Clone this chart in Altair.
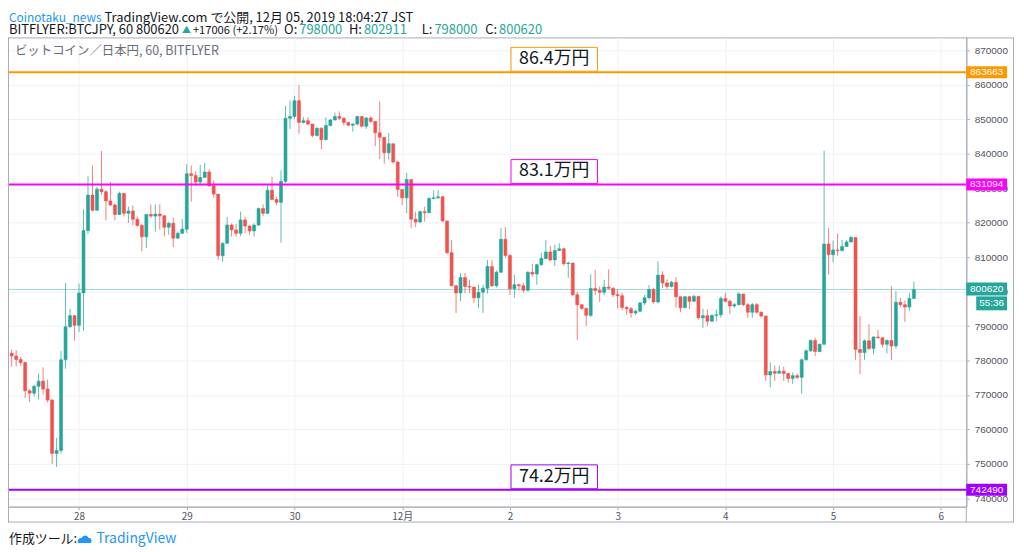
import altair as alt
import pandas as pd

# ---------------- data ----------------
first_open = 782100
closes = [
    781300, 780300, 779400, 771200, 770500, 772500, 774000, 771700, 768500, 753000,
    753900, 780200, 789800, 793000, 790200, 799600, 817700, 828000, 823600, 829700,
    829000, 826300, 825100, 822400, 828500, 822700, 823400, 821000, 819200, 815900,
    822400, 821900, 822500, 822000, 818700, 819800, 815500, 816900, 818100, 834200,
    833700, 831800, 833100, 834700, 830700, 828300, 810400, 814000, 819300, 817900,
    816900, 820800, 819000, 817600, 819300, 824100, 822700, 829400, 826700, 825900,
    832000, 850300, 850800, 855400, 849100, 849600, 848600, 845300, 847400, 844100,
    848200, 849800, 850800, 850300, 849100, 848300, 848600, 850800, 848000, 850400,
    849400, 846100, 844800, 840300, 842900, 837600, 829600, 827200, 832500, 821000,
    820200, 823200, 822900, 827000, 827200, 827500, 820500, 811300, 801700, 799600,
    804100, 801500, 801300, 798200, 799800, 801000, 807300, 801700, 805600, 815200,
    810500, 800800, 802000, 801700, 800400, 805600, 805100, 807800, 809600, 811500,
    809200, 811900, 812400, 808100, 808300, 799100, 796200, 795100, 793100, 800900,
    800300, 799800, 801300, 801000, 799100, 798800, 795400, 795000, 793800, 794300,
    796700, 798200, 800600, 797000, 804800, 802500, 801500, 802700, 798500, 795300,
    798500, 797200, 798600, 792400, 793000, 791400, 793100, 793300, 798000, 797200,
    795800, 796200, 799300, 796200, 794000, 796200, 794000, 792900, 775800, 776800,
    776300, 776900, 776200, 774800, 775600, 775100, 780200, 782800, 785800, 782600,
    784700, 813800, 810700, 812100, 811900, 813100, 814400, 815700, 783200, 782300,
    785700, 783500, 786800, 786600, 784700, 785800, 784200, 796900, 796200, 795500,
    798000, 800620,
]
highs = [
    783200, 783000, 781000, 779600, 771700, 772900, 776200, 778000, 774400, 768900,
    757500, 782800, 802500, 795000, 793200, 802300, 823900, 833500, 836600, 830400,
    840800, 829400, 831800, 825600, 829000, 828600, 824700, 825000, 821700, 819700,
    822500, 825300, 825300, 825300, 822200, 820300, 821500, 817400, 821000, 837100,
    836600, 834900, 836800, 837300, 835500, 832300, 828300, 814200, 821700, 819800,
    819600, 823200, 821700, 819300, 819800, 824400, 825300, 830900, 833300, 827500,
    835200, 853900, 855400, 856800, 860000, 850600, 850600, 847700, 847700, 847700,
    850600, 850100, 852000, 852300, 850600, 849100, 848800, 851000, 850600, 850600,
    850900, 849400, 855200, 844800, 846000, 842900, 837900, 829400, 834500, 832500,
    823200, 823600, 824600, 827300, 829400, 829400, 827700, 820500, 815000, 802000,
    805400, 805400, 803400, 801000, 802000, 802000, 809200, 809200, 806100, 818400,
    818700, 810800, 804900, 802300, 802500, 805900, 808000, 808000, 811300, 815000,
    813300, 813600, 814000, 812700, 808600, 808300, 800000, 796200, 795400, 805000,
    806300, 801500, 803400, 806400, 801200, 800600, 799600, 795800, 795500, 794800,
    797100, 799000, 801900, 801100, 808800, 805900, 803500, 803100, 804200, 798500,
    798700, 798700, 799100, 798600, 795000, 794800, 793300, 794800, 798600, 799600,
    797700, 796700, 799800, 799300, 796700, 796700, 796700, 794200, 793000, 779400,
    778500, 778500, 778200, 776500, 776500, 776200, 780600, 783300, 786100, 786600,
    784900, 840900, 818400, 814800, 816900, 815000, 815000, 816200, 815700, 792900,
    786100, 790500, 787100, 788900, 786600, 786100, 801500, 800100, 798200, 797400,
    799600, 802911,
]
lows = [
    778200, 778200, 778500, 769100, 767900, 769600, 768700, 770100, 767800, 750000,
    749100, 753000, 777600, 789500, 785800, 788300, 788600, 816700, 823300, 823500,
    828000, 820600, 824800, 820600, 822200, 821800, 819900, 819300, 818800, 811700,
    812600, 821400, 817400, 818000, 816000, 816500, 812900, 815400, 817000, 817000,
    826100, 830600, 831000, 833300, 830400, 827200, 809200, 808700, 813900, 815900,
    816000, 816100, 816900, 816400, 816000, 819000, 821900, 822500, 826500, 825100,
    814200, 831500, 847200, 850100, 845800, 848800, 848200, 844800, 845000, 841300,
    843900, 848000, 849600, 849800, 848200, 848000, 846400, 848200, 847700, 847200,
    849000, 842200, 838500, 837100, 838400, 837100, 827500, 825100, 822700, 818400,
    818700, 819800, 820300, 822700, 826800, 826800, 820300, 810900, 801500, 793800,
    797200, 799600, 799600, 796700, 795300, 793800, 799400, 801300, 801200, 805400,
    809800, 799000, 798200, 800400, 799700, 800000, 804400, 802000, 807500, 809400,
    808800, 807400, 812000, 807500, 804000, 798700, 786000, 794700, 790000, 792600,
    799000, 797000, 799000, 800500, 798400, 795100, 794600, 793300, 792400, 793200,
    794000, 796100, 797700, 796500, 796600, 801000, 800800, 801200, 795300, 794000,
    795300, 794800, 797000, 791900, 789500, 790000, 791200, 791400, 792400, 796800,
    793600, 795300, 796000, 795800, 792400, 792400, 793600, 792500, 774100, 772200,
    774100, 776200, 774100, 773600, 773200, 774600, 770400, 780000, 782500, 781300,
    782400, 784500, 804900, 808500, 810400, 811600, 813000, 814300, 780200, 776000,
    780200, 783000, 781800, 786300, 783700, 782100, 780100, 783400, 795500, 791200,
    794300, 798000,
]

day_labels = ["28", "29", "30", "12月", "2", "3", "4", "5", "6"]
day_ticks = [15, 39, 63, 87, 111, 135, 159, 183, 207]   # hourly candle index at midnight
y_ticks = list(range(740000, 870001, 10000))

levels = [863663, 831094, 742490]
level_texts = ["86.4万円", "83.1万円", "74.2万円"]
level_colors = ["#ff9800", "#ff00ff", "#a100ff"]

last_price = 800620
countdown = "55:36"

# ---------------- styling ----------------
UP = "#26a69a"
DOWN = "#ef5350"
FRAME = "#a9acb5"
GRID = "#eef1f6"
FONT = "Noto Sans CJK JP"
W, H = 964, 472

opens = [first_open] + closes[:-1]
df = pd.DataFrame({
    "i": list(range(len(closes))),
    "o": opens,
    "c": closes,
    "h": [max(h, o, c) for h, o, c in zip(highs, opens, closes)],
    "l": [min(l, o, c) for l, o, c in zip(lows, opens, closes)],
})
up_df = df[df.c >= df.o]
dn_df = df[df.c < df.o]

xs = alt.Scale(domain=[0.285, 211.57], nice=False, zero=False)
ys = alt.Scale(domain=[737581, 873761], nice=False, zero=False)

label_expr = "[" + ",".join("'%s'" % s for s in day_labels) + "]" + \
    "[round((datum.value-%d)/24)]" % day_ticks[0]

xaxis = alt.Axis(values=day_ticks, labelExpr=label_expr, title=None, grid=True,
                 gridColor=GRID, tickSize=3, tickColor=FRAME, domain=True,
                 domainColor=FRAME, labelFontSize=10, labelColor="#50535e",
                 labelFont=FONT, labelPadding=2, labelFlush=False,
                 labelOverlap=False)
yaxis = alt.Axis(orient="right", values=y_ticks, format="d", title=None, grid=True,
                 gridColor=GRID, tickSize=3, tickColor=FRAME, domain=True,
                 domainColor=FRAME, labelFontSize=10, labelColor="#50535e",
                 labelFont="Liberation Sans", labelPadding=5, labelOverlap=False,
                 labelFlush=False)


def X(field):
    return alt.X(field, scale=xs, axis=xaxis)


def Y(field):
    return alt.Y(field, scale=ys, axis=yaxis)


one = alt.Data(values=[{"a": 1}])


def txt(s, x, y, color, size=13, align="left", baseline="alphabetic", font=FONT):
    return alt.Chart(one).mark_text(text=s, align=align, baseline=baseline,
                                    fontSize=size, font=font, color=color).encode(
        x=alt.value(x), y=alt.value(y))


def hrule(x1, x2, y):
    return alt.Chart(one).mark_rule(color=FRAME, strokeWidth=1).encode(
        x=alt.value(x1), x2=alt.value(x2), y=alt.value(y))


def vrule(x, y1, y2):
    return alt.Chart(one).mark_rule(color=FRAME, strokeWidth=1).encode(
        x=alt.value(x), y=alt.value(y1), y2=alt.value(y2))


layers = []

# axes carrier (grid + ticks)
layers.append(alt.Chart(df).mark_rule(opacity=0).encode(x=X("i:Q"), y=Y("c:Q")))

# price line
pl = pd.DataFrame({"p": [last_price], "lab": [str(last_price)], "cd": [countdown]})
layers.append(alt.Chart(pl).mark_rule(color="#9fd9d2", strokeWidth=1).encode(
    y=Y("p:Q")))

# candles
for d, col in ((up_df, UP), (dn_df, DOWN)):
    layers.append(alt.Chart(d).mark_rule(color=col, strokeWidth=1, opacity=0.75,
                                         clip=True).encode(
        x=X("i:Q"), y=Y("l:Q"), y2="h:Q"))
    layers.append(alt.Chart(d).mark_bar(size=3, color=col, stroke=col,
                                        strokeWidth=0.6, clip=True).encode(
        x=X("i:Q"), y=Y("o:Q"), y2="c:Q"))

# horizontal levels with boxed labels
for p, t, col in zip(levels, level_texts, level_colors):
    d = pd.DataFrame({"p": [p], "t": [t], "lab": [str(p)]})
    layers.append(alt.Chart(d).mark_rule(color=col, strokeWidth=2).encode(y=Y("p:Q")))
    layers.append(alt.Chart(d).mark_rect(fill="white", stroke=col, strokeWidth=1,
                                         yOffset=-25, y2Offset=-1).encode(
        x=alt.value(506), x2=alt.value(593), y=Y("p:Q"), y2="p:Q"))
    layers.append(alt.Chart(d).mark_text(fontSize=18, font=FONT, color="#131722",
                                         dy=-13, baseline="middle").encode(
        x=alt.value(549.5), y=Y("p:Q"), text="t:N"))
    layers.append(alt.Chart(d).mark_rect(fill=col, yOffset=-6, y2Offset=6).encode(
        x=alt.value(964), x2=alt.value(1005), y=Y("p:Q"), y2="p:Q"))
    layers.append(alt.Chart(d).mark_text(fontSize=10, font="Liberation Sans",
                                         color="white", baseline="middle").encode(
        x=alt.value(984.5), y=Y("p:Q"), text="lab:N"))

# last price label + countdown
layers.append(alt.Chart(pl).mark_rect(fill=UP, yOffset=-7, y2Offset=6).encode(
    x=alt.value(964), x2=alt.value(1005), y=Y("p:Q"), y2="p:Q"))
layers.append(alt.Chart(pl).mark_text(fontSize=10, font="Liberation Sans",
                                      color="white", baseline="middle").encode(
    x=alt.value(984.5), y=Y("p:Q"), text="lab:N"))
layers.append(alt.Chart(pl).mark_rect(fill=UP, yOffset=7, y2Offset=21).encode(
    x=alt.value(974), x2=alt.value(1005), y=Y("p:Q"), y2="p:Q"))
layers.append(alt.Chart(pl).mark_text(fontSize=10, font="Liberation Sans",
                                      color="white", baseline="middle", dy=14).encode(
    x=alt.value(989.5), y=Y("p:Q"), text="cd:N"))

# frame
layers += [
    hrule(964, 1012, 0.5),
    vrule(1011.5, 0, 488),
    hrule(0, 1012, 487.5),
    vrule(0.5, 0, 488),
    vrule(964, 472, 488),
]

# header / captions
TEAL = "#26a69a"
BLACK = "#131722"
L1, L2 = -16, -3
layers += [
    txt("Coinotaku_news", 1, L1, "#2196f3", size=12),
    txt("TradingView.com で公開, 12月 05, 2019 18:04:27 JST", 97, L1, BLACK),
    txt("BITFLYER:BTCJPY, 60 800620", 1, L2, BLACK),
    txt("▲", 175, L2 - 1, TEAL, size=9),
    txt("+17006 (+2.17%)", 186, L2, BLACK, size=11.2),
    txt("O:", 291, L2, BLACK, align="right"),
    txt("798000", 293, L2, TEAL),
    txt("H:", 356, L2, BLACK, align="right"),
    txt("802911", 358, L2, TEAL),
    txt("L:", 427, L2, BLACK, align="right"),
    txt("798000", 429, L2, TEAL),
    txt("C:", 492, L2, BLACK, align="right"),
    txt("800620", 494, L2, TEAL),
    txt("ビットコイン／日本円, 60, BITFLYER", 7, 13.5, "#6a6d78", size=12.5,
        baseline="middle"),
    txt("作成ツール:", 1, 505, BLACK, size=13, baseline="middle"),
    txt("TradingView", 89, 505, "#2196f3", size=14, baseline="middle"),
]
cloud = ("M -1 0.55 C -1.25 0.1 -0.85 -0.3 -0.45 -0.2 C -0.3 -0.75 0.45 -0.8 0.6 -0.25 "
         "C 1.05 -0.3 1.25 0.25 1 0.55 Z")
layers.append(alt.Chart(one).mark_point(shape=cloud, filled=True, color="#2196f3",
                                        size=160, opacity=1).encode(
    x=alt.value(77), y=alt.value(505)))

chart = alt.layer(*layers).properties(
    width=W, height=H,
    padding={"left": 0, "top": 28, "right": 50, "bottom": 40},
    autosize=alt.AutoSizeParams(type="none"),
).configure_view(stroke=FRAME, strokeWidth=1)

chart.save("out.html", embed_options={"renderer": "svg", "actions": False})
